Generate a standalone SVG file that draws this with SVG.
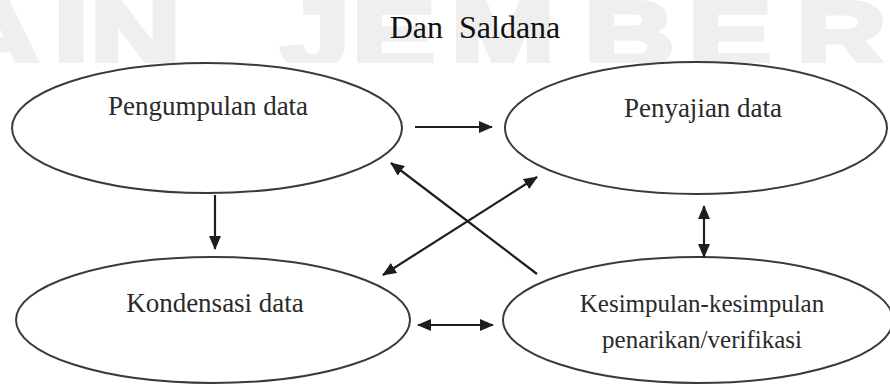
<svg xmlns="http://www.w3.org/2000/svg" width="890" height="385" viewBox="0 0 890 385">
  <style>
    .node ellipse { fill: #ffffff; stroke: #3a3a3a; stroke-width: 2; }
    .label { font-family: "Liberation Serif", "Times New Roman", serif; fill: #2a2a2a; text-anchor: middle; }
    .conn line { stroke: #1e1e1e; stroke-width: 2.2; fill: none; }
    .wm { font-family: "Liberation Sans", Arial, sans-serif; font-weight: bold; font-size: 92px; fill: #efefef; stroke: #efefef; stroke-width: 5; stroke-linejoin: miter; }
  </style>
  <defs>
    <marker id="ah" viewBox="0 0 14 12" refX="13" refY="6" markerWidth="14" markerHeight="12" markerUnits="userSpaceOnUse" orient="auto-start-reverse">
      <path d="M0,0 L14,6 L0,12 z" fill="#1e1e1e"/>
    </marker>
    <clipPath id="wmclip">
      <rect x="0" y="0" width="890" height="63"/>
    </clipPath>
  </defs>

  <rect x="0" y="0" width="890" height="385" fill="#ffffff"/>

  <g id="watermark" clip-path="url(#wmclip)">
    <g transform="scale(1.35 1)">
      <text class="wm" x="-67 -36 40 67" y="66">IAIN</text>
      <text class="wm" x="208 261 334 433 510 590" y="66">JEMBER</text>
    </g>
  </g>

  <g id="title">
    <text x="475" y="38" font-family="Liberation Serif, 'Times New Roman', serif" font-size="32" fill="#111" text-anchor="middle" xml:space="preserve">Dan  Saldana</text>
  </g>

  <g id="pengumpulan" class="node">
    <ellipse cx="207" cy="128" rx="195" ry="65"/>
    <text class="label" x="208" y="115" font-size="27">Pengumpulan data</text>
  </g>

  <g id="penyajian" class="node">
    <ellipse cx="696" cy="128" rx="191" ry="66"/>
    <text class="label" x="703" y="117" font-size="27">Penyajian data</text>
  </g>

  <g id="kondensasi" class="node">
    <ellipse cx="213" cy="320" rx="197" ry="63"/>
    <text class="label" x="215" y="312" font-size="27">Kondensasi data</text>
  </g>

  <g id="kesimpulan" class="node">
    <ellipse cx="698" cy="320" rx="195" ry="63"/>
    <text class="label" x="702" y="312" font-size="25">Kesimpulan-kesimpulan</text>
    <text class="label" x="702" y="348" font-size="25">penarikan/verifikasi</text>
  </g>

  <g id="connectors" class="conn">
    <line x1="415" y1="127" x2="492" y2="127" marker-end="url(#ah)"/>
    <line x1="215" y1="195" x2="215" y2="249" marker-end="url(#ah)"/>
    <line x1="704" y1="206" x2="704" y2="257" marker-start="url(#ah)" marker-end="url(#ah)"/>
    <line x1="418" y1="325" x2="493" y2="325" marker-start="url(#ah)" marker-end="url(#ah)"/>
    <line x1="537" y1="274" x2="391" y2="163" marker-end="url(#ah)"/>
    <line x1="383" y1="275" x2="537" y2="177" marker-start="url(#ah)" marker-end="url(#ah)"/>
  </g>
</svg>
